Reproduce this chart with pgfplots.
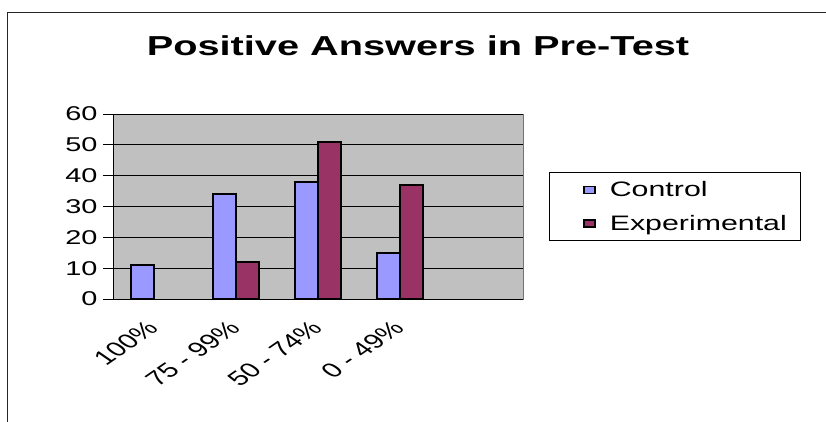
\documentclass[border=0pt]{standalone}
\usepackage{pgfplots}
\pgfplotsset{compat=1.18}
\usepackage{fontspec}
\setmainfont{Liberation Sans}
\usepackage{graphicx}
\definecolor{ctrl}{RGB}{153,153,255}
\definecolor{expc}{RGB}{153,51,102}
\definecolor{plotgray}{RGB}{192,192,192}
\newcommand{\sx}[1]{\scalebox{1.45}[1]{#1}}
\newcommand{\rx}[1]{\scalebox{1.45}[1]{\rotatebox{45}{#1}}}
\begin{document}
\begin{tikzpicture}[x=1bp,y=1bp]
\useasboundingbox (0,0) rectangle (826,421);
\fill[white] (0,0) rectangle (826,421);
\draw[line width=1bp, black!85] (7,-5) -- (7,408) -- (830,408);
\node[font=\fontsize{27.5}{30}\selectfont\bfseries] at (418,375) {\sx{Positive Answers in Pre-Test}};
\begin{axis}[
  at={(113bp,122bp)}, anchor=south west,
  width=410bp, height=185bp, scale only axis,
  xmin=-0.5, xmax=4.5, ymin=0, ymax=60,
  ybar=0pt, bar width=0.28,
  axis background/.style={fill=plotgray, draw=gray!90!black},
  axis x line*=bottom, axis y line*=left,
  axis line style={black, line width=1bp, -},
  ytick={0,10,...,60},
  yticklabels={\sx{0},\sx{10},\sx{20},\sx{30},\sx{40},\sx{50},\sx{60}},
  yticklabel style={font=\fontsize{20}{22}\selectfont, xshift=-2bp},
  ymajorgrids, major grid style={black, line width=0.9bp},
  ytick style={black, line width=1bp},
  tick align=outside, major tick length=10bp,
  xtick={0,1,2,3},
  xticklabels={\rx{100\%}, \rx{75 - 99\%}, \rx{50 - 74\%}, \rx{0 - 49\%}},
  xticklabel style={anchor=north east, font=\fontsize{20.5}{22}\selectfont, inner sep=0pt, xshift=6bp, yshift=-10bp},
  x tick style={draw=none},
  extra x ticks={-0.5,0.5,1.5,2.5,3.5,4.5},
  extra x tick labels={},
  extra x tick style={grid=none, major tick length=5bp, tick style={black, line width=1bp, draw=black}},
  legend image code/.code={\path (0bp,0bp) (51bp,0bp); \draw[#1, line width=1.3bp] (28bp,-3.5bp) rectangle (39bp,3.5bp);},
  legend style={at={(1.063,0.686)}, anchor=north west, draw=black, line width=0.8bp,
    font=\fontsize{21}{24}\selectfont, inner xsep=6bp, inner ysep=7bp, row sep=13bp,
    cells={anchor=west}},
  legend entries={\sx{Control},\sx{Experimental}\hspace*{6bp}},
]
\addplot[fill=ctrl, draw=black, line width=1.6bp] coordinates {(0,11) (1,34) (2,38) (3,15)};
\addplot[fill=expc, draw=black, line width=1.6bp] coordinates {(1,12) (2,51) (3,37)};
\end{axis}
\end{tikzpicture}
\end{document}
